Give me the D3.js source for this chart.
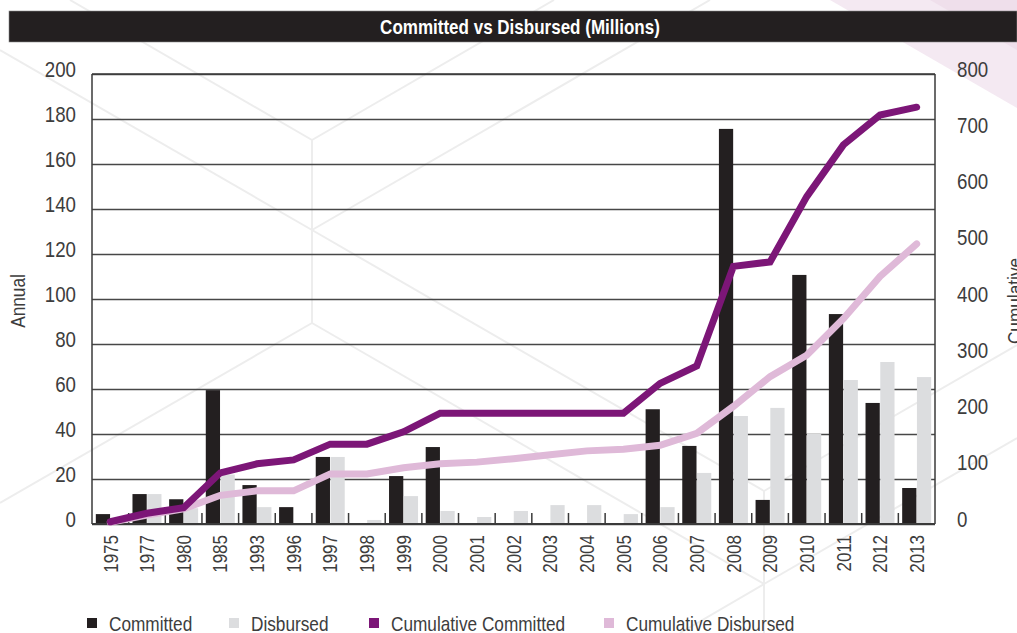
<!DOCTYPE html>
<html>
<head>
<meta charset="utf-8">
<script src="https://cdn.jsdelivr.net/npm/d3@7"></script>
<style>
  html, body { margin: 0; padding: 0; background: #fff; }
  svg { display: block; }
  text { font-family: "Liberation Sans", Arial, sans-serif; }
</style>
</head>
<body>
<div id="chart"></div>
<script>
// values
const years = ["1975", "1977", "1980", "1985", "1993", "1996", "1997", "1998", "1999", "2000", "2001",
  "2002", "2003", "2004", "2005", "2006", "2007", "2008", "2009", "2010", "2011", "2012", "2013"];
const committed = [4.4, 13.3, 11, 59.5, 17.3, 7.5, 29.8, 0, 21.3, 34.2, 0,
  0, 0, 0, 0, 51, 34.7, 175.6, 10.7, 110.7, 93.3, 53.8, 16];
const disbursed = [0, 13.3, 7, 22, 7.5, 0, 29.8, 1.8, 12.4, 5.8, 3.1,
  5.8, 8.4, 8.4, 4.4, 7.5, 22.7, 48, 51.6, 40, 64, 72, 65.3];
const cumCommitted = [4, 19, 29, 91, 107, 114, 142, 142, 164, 197, 197,
  197, 197, 197, 197, 250, 281, 458, 466, 582, 674, 727, 741];
const cumDisbursed = [3, 16, 27, 51, 59, 59, 89, 89, 100, 107, 110,
  116, 123, 130, 133, 140, 161, 209, 262, 300, 365, 440, 498];
const annualTicks = [0, 20, 40, 60, 80, 100, 120, 140, 160, 180, 200];
const cumulativeTicks = [0, 100, 200, 300, 400, 500, 600, 700, 800];

const colors = {
  committed: "#231f20",
  disbursed: "#dcdddf",
  cumCommitted: "#7c1677",
  cumDisbursed: "#dfb9d8"
};
const textColor = "#3d3d3d";

const dimensions = {
  width: 1017,
  height: 633,
  margin: { top: 74, right: 82, bottom: 109, left: 92 }
};
dimensions.boundedWidth = dimensions.width - dimensions.margin.left - dimensions.margin.right;
dimensions.boundedHeight = dimensions.height - dimensions.margin.top - dimensions.margin.bottom;

// squeeze a text horizontally to look like a condensed face
function condense(selection, factor) {
  selection.each(function() {
    const w = this.getComputedTextLength();
    this.setAttribute("textLength", w * factor);
    this.setAttribute("lengthAdjust", "spacingAndGlyphs");
  });
}

const wrapper = d3.select("#chart")
  .append("svg")
    .attr("width", dimensions.width)
    .attr("height", dimensions.height);

// faint background decoration
const deco = wrapper.append("g");
deco.append("polygon")
  .attr("points", "830,0 1017,0 1017,108")
  .attr("fill", "#f4e9f2");
deco.append("polygon")
  .attr("points", "930,0 1017,0 1017,50")
  .attr("fill", "#efdfeb");
const decoLines = [
  [312, 140, 70, 0], [312, 140, 554, 0], [312, 140, 312, 323],
  [312, 230, 0, 50], [312, 230, 710, 0], [312, 230, 764, 491],
  [312, 323, 0, 503], [312, 323, 764, 584], [764, 491, 764, 633],
  [764, 491, 1017, 345], [764, 584, 1017, 438], [764, 584, 680, 633]
];
deco.selectAll("line")
  .data(decoLines)
  .join("line")
    .attr("x1", d => d[0]).attr("y1", d => d[1])
    .attr("x2", d => d[2]).attr("y2", d => d[3])
    .attr("stroke", "#ededed")
    .attr("stroke-width", 2);

// title bar
wrapper.append("rect")
  .attr("x", 9).attr("y", 11)
  .attr("width", dimensions.width - 9).attr("height", 31)
  .attr("fill", "#231f20")
  .attr("stroke", "#8a8a8a").attr("stroke-width", 0.6);
const title = wrapper.append("text")
  .attr("x", 520).attr("y", 34)
  .attr("text-anchor", "middle")
  .attr("fill", "#fff")
  .attr("font-size", 21)
  .attr("font-weight", "bold")
  .text("Committed vs Disbursed (Millions)");
condense(title, 0.81);

const bounds = wrapper.append("g")
  .attr("transform", `translate(${dimensions.margin.left},${dimensions.margin.top})`);

const x = d3.scaleBand()
  .domain(years)
  .range([0, dimensions.boundedWidth]);
const xSub = d3.scaleBand()
  .domain(["committed", "disbursed"])
  .range([x.bandwidth() / 2 - 14.5, x.bandwidth() / 2 + 14.5])
  .paddingInner(0.035);
const yAnnual = d3.scaleLinear()
  .domain([0, 200])
  .range([dimensions.boundedHeight, 0]);
const yCumulative = d3.scaleLinear()
  .domain([0, 800])
  .range([dimensions.boundedHeight, 0]);

// gridlines + left labels
const leftAxis = bounds.append("g")
  .call(d3.axisLeft(yAnnual).tickValues(annualTicks)
    .tickSize(-dimensions.boundedWidth).tickPadding(16));
leftAxis.select(".domain").remove();
leftAxis.selectAll(".tick line")
  .attr("stroke", "#474747").attr("stroke-width", 1.3);
leftAxis.selectAll(".tick text")
  .attr("dy", "0.1em")
  .attr("font-size", 22)
  .attr("font-family", null)
  .attr("fill", textColor);
condense(leftAxis.selectAll(".tick text"), 0.85);

const rightAxis = bounds.append("g")
  .attr("transform", `translate(${dimensions.boundedWidth},0)`)
  .call(d3.axisRight(yCumulative).tickValues(cumulativeTicks)
    .tickSize(0).tickPadding(22));
rightAxis.select(".domain").remove();
rightAxis.selectAll(".tick text")
  .attr("dy", "0.1em")
  .attr("font-size", 22)
  .attr("font-family", null)
  .attr("fill", textColor);
condense(rightAxis.selectAll(".tick text"), 0.85);

// bars
const groups = bounds.append("g")
  .selectAll("g")
  .data(years)
  .join("g")
    .attr("transform", d => `translate(${x(d)},0)`);
groups.append("rect")
  .attr("x", xSub("committed"))
  .attr("width", xSub.bandwidth())
  .attr("y", (d, i) => yAnnual(committed[i]))
  .attr("height", (d, i) => yAnnual(0) - yAnnual(committed[i]))
  .attr("fill", colors.committed);
groups.append("rect")
  .attr("x", xSub("disbursed"))
  .attr("width", xSub.bandwidth())
  .attr("y", (d, i) => yAnnual(disbursed[i]))
  .attr("height", (d, i) => yAnnual(0) - yAnnual(disbursed[i]))
  .attr("fill", colors.disbursed);

// frame: left, right, top, bottom
const frame = bounds.append("g").attr("stroke", "#3a3a3a");
frame.append("line").attr("x1", 0).attr("x2", 0).attr("y1", 0).attr("y2", dimensions.boundedHeight).attr("stroke-width", 1.5);
frame.append("line").attr("x1", dimensions.boundedWidth).attr("x2", dimensions.boundedWidth).attr("y1", 0).attr("y2", dimensions.boundedHeight).attr("stroke-width", 1.5);
frame.append("line").attr("x1", 0).attr("x2", dimensions.boundedWidth).attr("y1", 0).attr("y2", 0).attr("stroke-width", 1.3);
frame.append("line").attr("x1", 0).attr("x2", dimensions.boundedWidth).attr("y1", dimensions.boundedHeight).attr("y2", dimensions.boundedHeight).attr("stroke-width", 2);

// short ticks at band boundaries
bounds.append("g")
  .selectAll("line")
  .data(years.slice(1))
  .join("line")
    .attr("x1", d => x(d)).attr("x2", d => x(d))
    .attr("y1", dimensions.boundedHeight)
    .attr("y2", dimensions.boundedHeight - 11)
    .attr("stroke", "#3a3a3a")
    .attr("stroke-width", 1.5);

// x labels
const xAxis = bounds.append("g")
  .attr("transform", `translate(0,${dimensions.boundedHeight})`)
  .call(d3.axisBottom(x).tickSize(0).tickPadding(0));
xAxis.select(".domain").remove();
xAxis.selectAll(".tick text")
  .attr("font-size", 20)
  .attr("font-family", null)
  .attr("fill", textColor)
  .attr("transform", "rotate(-90)")
  .attr("text-anchor", "end")
  .attr("x", -11)
  .attr("y", 0)
  .attr("dy", "0.36em");
condense(xAxis.selectAll(".tick text"), 0.85);

// cumulative lines
const lineGen = d3.line()
  .x((d, i) => x(years[i]) + x.bandwidth() / 2)
  .y(d => yCumulative(d));
bounds.append("path")
  .datum(cumDisbursed)
  .attr("d", lineGen)
  .attr("fill", "none")
  .attr("stroke", colors.cumDisbursed)
  .attr("stroke-width", 7)
  .attr("stroke-linecap", "round")
  .attr("stroke-linejoin", "miter");
bounds.append("path")
  .datum(cumCommitted)
  .attr("d", lineGen)
  .attr("fill", "none")
  .attr("stroke", colors.cumCommitted)
  .attr("stroke-width", 7)
  .attr("stroke-linecap", "round")
  .attr("stroke-linejoin", "miter");

// axis titles
const annualTitle = wrapper.append("text")
  .attr("transform", `translate(25,${301}) rotate(-90)`)
  .attr("text-anchor", "middle")
  .attr("font-size", 21)
  .attr("fill", textColor)
  .text("Annual");
condense(annualTitle, 0.82);
const cumulativeTitle = wrapper.append("text")
  .attr("transform", `translate(1022,${301}) rotate(-90)`)
  .attr("text-anchor", "middle")
  .attr("font-size", 21)
  .attr("fill", textColor)
  .text("Cumulative");
condense(cumulativeTitle, 0.82);

// legend
const legendItems = [
  { label: "Committed", color: colors.committed, x: 87 },
  { label: "Disbursed", color: colors.disbursed, x: 229 },
  { label: "Cumulative Committed", color: colors.cumCommitted, x: 369 },
  { label: "Cumulative Disbursed", color: colors.cumDisbursed, x: 604 }
];
const legend = wrapper.append("g")
  .selectAll("g")
  .data(legendItems)
  .join("g")
    .attr("transform", d => `translate(${d.x},618)`);
legend.append("rect")
  .attr("width", 10).attr("height", 10)
  .attr("fill", d => d.color);
const legendText = legend.append("text")
  .attr("x", 22).attr("y", 13)
  .attr("font-size", 21)
  .attr("fill", textColor)
  .text(d => d.label);
condense(legendText, 0.82);
</script>
</body>
</html>
